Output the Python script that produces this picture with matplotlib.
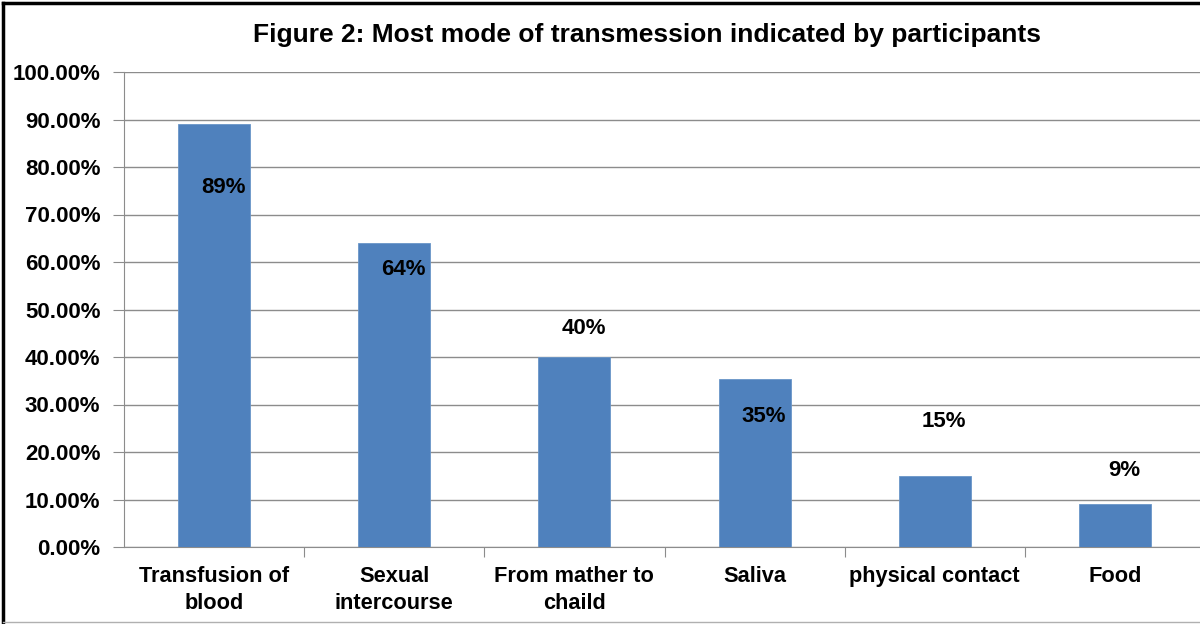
import matplotlib.pyplot as plt
from matplotlib.lines import Line2D
from matplotlib.ticker import FuncFormatter

# data
categories = ["Transfusion of\nblood", "Sexual\nintercourse", "From mather to\nchaild",
              "Saliva", "physical contact", "Food"]
values = [89, 64, 40, 35.3, 15, 9]
labels = ["89%", "64%", "40%", "35%", "15%", "9%"]
# label y positions (chart units) as placed in the original
label_pos = [75.6, 58.4, 46.0, 27.5, 26.4, 16.0]

plt.rcParams['font.family'] = ['Liberation Sans', 'DejaVu Sans']

fig = plt.figure(figsize=(12, 6.24), dpi=100)
ax = fig.add_axes([124 / 1200, 1 - 547 / 624, 1081 / 1200, 475 / 624])

grid_c = "#8c8c8c"
x = range(len(categories))
ax.bar(x, values, width=0.4, color="#4F81BD", edgecolor="#6a96c8", linewidth=0.6, zorder=3)

for i, (lab, py) in enumerate(zip(labels, label_pos)):
    ax.text(i + 0.05, py, lab, ha="center", va="center", fontsize=16, fontweight="bold",
            color="black", zorder=4)

ax.set_ylim(0, 100)
ax.set_xlim(-0.5, 5.5)
ax.set_yticks(range(0, 101, 10))
ax.yaxis.set_major_formatter(FuncFormatter(lambda v, p: f"{v:.2f}%"))
ax.yaxis.grid(True, color=grid_c, linewidth=1, zorder=0)
ax.set_xticks([i + 0.5 for i in range(5)])
ax.set_xticklabels([])
ax.set_xticks(list(x), minor=True)
ax.set_xticklabels(categories, minor=True, fontsize=15.7, fontweight="bold", linespacing=1.35)
ax.tick_params(axis="x", which="minor", length=0, pad=14)
ax.tick_params(axis="x", which="major", length=7, color=grid_c, direction="out")
ax.tick_params(axis="y", length=8, color=grid_c, labelsize=16, pad=9)
for lbl in ax.get_yticklabels():
    lbl.set_fontweight("bold")

for s in ["top", "right"]:
    ax.spines[s].set_visible(False)
ax.spines["left"].set_color(grid_c)
ax.spines["bottom"].set_color(grid_c)

fig.text(647 / 1200, 1 - 35 / 624, "Figure 2: Most mode of transmession indicated by participants",
         ha="center", va="center", fontsize=19, fontweight="bold")

# outer frame of the picture
fig.add_artist(Line2D([3 / 1200, 3 / 1200], [0, 1 - 3 / 624], color="black", linewidth=2.5,
                      transform=fig.transFigure))
fig.add_artist(Line2D([3 / 1200, 1], [1 - 3 / 624, 1 - 3 / 624], color="black", linewidth=2.5,
                      transform=fig.transFigure))
fig.add_artist(Line2D([3 / 1200, 1], [2 / 624, 2 / 624], color="#b0b0b0", linewidth=1,
                      transform=fig.transFigure))

fig.savefig("out.png", dpi=100)
